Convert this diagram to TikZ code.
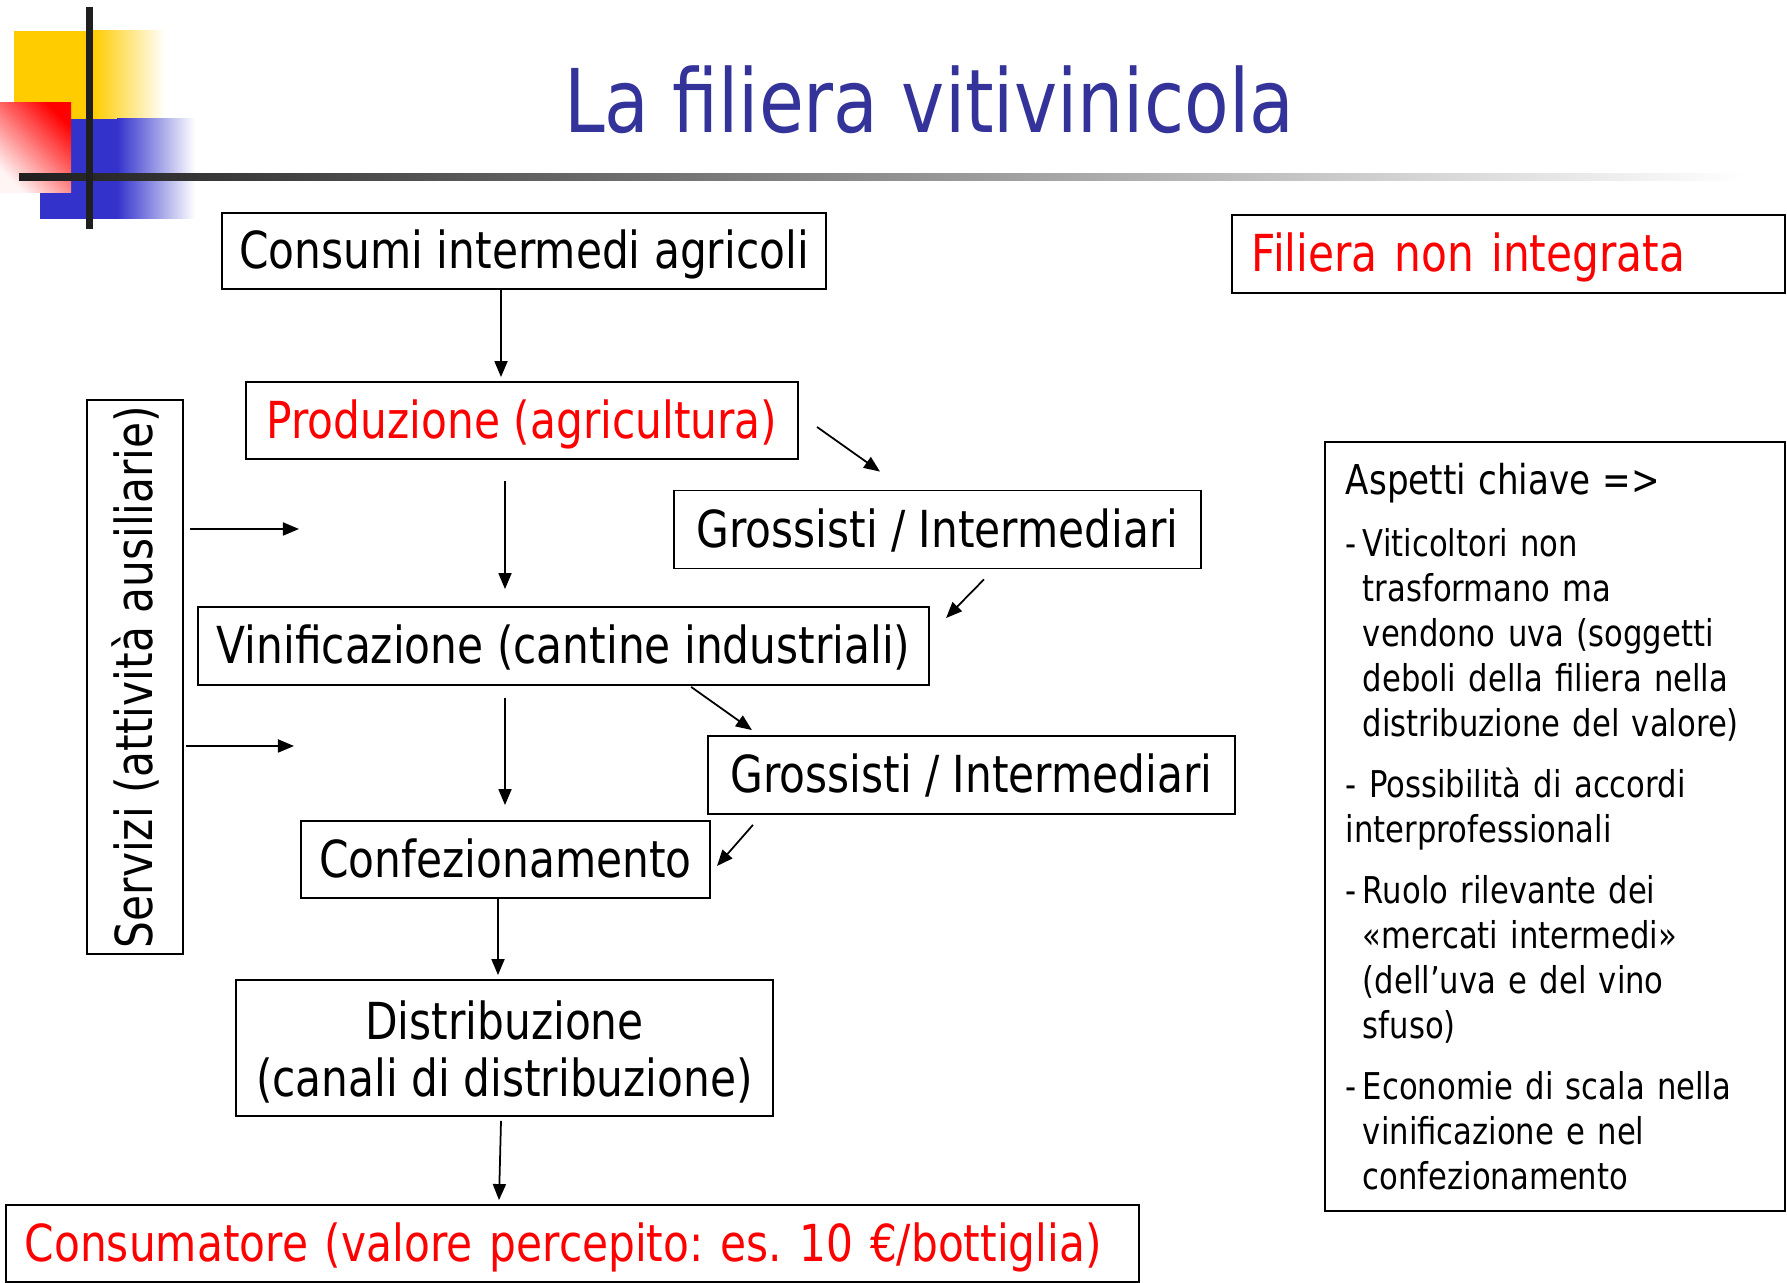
\documentclass[tikz,border=0pt]{standalone}
\usepackage{fontspec}
\setmainfont[FakeStretch=0.83]{DejaVu Sans}
\usetikzlibrary{calc,arrows.meta}
\tikzset {>={Triangle[length=1.6mm,width=1.3mm]}}
\definecolor{titleblue}{HTML}{333399}
\definecolor{logoyellow}{HTML}{FFCC00}
\definecolor{logoblue}{HTML}{3333CC}
\newcommand{\kdash}{\makebox[0.17cm][l]{-}}
\newcommand{\kind}{\hspace*{0.17cm}}
\frenchspacing

\begin{document}
\begin{tikzpicture}[x=0.01cm,y=-0.01cm,
  stage/.style={draw,line width=0.5pt,inner sep=0pt,
    font=\fontsize{14.5}{16.2}\selectfont},
  oneline/.style={text height=13pt,text depth=3pt},
  hot/.style={text=red}]
\fill[white] (0,0) rectangle (1787,1283);
\useasboundingbox (0,0) rectangle (1787,1283);
% logo
\fill[logoyellow] (14,31) rectangle (93,119);
\shade[left color=logoyellow,right color=white] (93,31) rectangle (165,119);
\fill[logoblue] (40,119) rectangle (117,219);
\shade[left color=logoblue,right color=white] (117,119) rectangle (195,219);
\shade[top color=red,bottom color=red!4,shading angle=-45] (0,103) rectangle (71,193);
\shade[left color=black!88,right color=white] (19,174) rectangle (1745,181);
\fill[black!88] (86,7) rectangle (93,229);
\node[text=titleblue,font=\fontsize{25}{28}\selectfont] (title) at (929,100)
  {La filiera vitivinicola};
% chain
\node[stage,oneline,minimum width=6.04cm,minimum height=0.76cm] (cons) at (524,251)
  {Consumi intermedi agricoli};
\node[stage,oneline,hot,minimum width=5.52cm,minimum height=0.77cm] (prod) at (522,420.5)
  {Produzione (agricultura)};
\foreach \n/\x/\y in {1/937.5/529.5,2/971.5/775}
  \node[stage,oneline,minimum width=5.27cm,minimum height=0.78cm] (gros\n) at (\x,\y)
    {Grossisti / Intermediari};
\node[stage,oneline,minimum width=7.31cm,minimum height=0.78cm] (vin) at (563.5,646)
  {Vinificazione (cantine industriali)};
\node[stage,oneline,minimum width=4.09cm,minimum height=0.77cm] (conf) at (505.5,859.5)
  {Confezionamento};
\node[stage,align=center,minimum width=5.37cm,minimum height=1.36cm] (dist) at (504.5,1048)
  {\rule{0pt}{0.46cm}Distribuzione\\(canali di distribuzione)};
\node[stage,oneline,hot,minimum width=11.33cm,minimum height=0.77cm,text width=10.95cm,align=left]
  (consum) at (572.5,1243.5) {Consumatore (valore percepito: es. 10 €/bottiglia)};
\node[stage,oneline,rotate=90,minimum width=5.54cm,minimum height=0.96cm] (serv) at (135,677)
  {Servizi (attività ausiliarie)};
\node[stage,oneline,hot,anchor=north west,minimum width=5.53cm,minimum height=0.78cm,
  text width=5.13cm,align=left] (nonint) at (1231,214) {Filiera non integrata};
\node[stage,anchor=north west,minimum width=4.6cm,minimum height=7.69cm,
  text width=4.18cm,align=left,font=\fontsize{10.5}{12.8}\selectfont] (key) at (1324,441)
  {{\fontsize{11.7}{12.8}\selectfont Aspetti chiave =>}\\[0.17cm]
   \kdash Viticoltori non\\
   \kind trasformano ma\\
   \kind vendono uva (soggetti\\
   \kind deboli della filiera nella\\
   \kind distribuzione del valore)\\[0.16cm]
   - Possibilità di accordi\\
   interprofessionali\\[0.16cm]
   \kdash Ruolo rilevante dei\\
   \kind «mercati intermedi»\\
   \kind (dell’uva e del vino\\
   \kind sfuso)\\[0.16cm]
   \kdash Economie di scala nella\\
   \kind vinificazione e nel\\
   \kind confezionamento};
% arrows
\coordinate (in1) at (299,529);
\coordinate (in2) at (294,746);
\draw[->,line width=0.5pt] ($(cons.south)+(-23,0)$) -- ($(prod.north)+(-21,-4)$);
\draw[->,line width=0.5pt] ($(prod.south)+(-17,21)$) -- ($(vin.north)+(-58.5,-17)$);
\draw[->,line width=0.5pt] ($(prod.east)+(18,6.5)$) -- ($(gros1.north)+(-57.5,-18)$);
\draw[->,line width=0.5pt] ($(gros1.south)+(46.5,10)$) -- ($(vin.east)+(16,-28)$);
\draw[->,line width=0.5pt] ($(vin.south)+(-58.5,12)$) -- ($(conf.north)+(-0.5,-15)$);
\draw[->,line width=0.5pt] ($(vin.south east)+(-239,1)$) -- ($(gros2.north west)+(45,-5)$);
\draw[->,line width=0.5pt] ($(gros2.south west)+(46,10)$) -- ($(conf.east)+(6,6.5)$);
\draw[->,line width=0.5pt] ($(conf.south)+(-7.5,0)$) -- ($(dist.north)+(-6.5,-4)$);
\draw[->,line width=0.5pt] ($(dist.south)+(-3.5,4)$) -- ($(consum.north)+(-73.5,-4)$);
\draw[->,line width=0.5pt] ($(serv.south)+(6,-148)$) -- (in1);
\draw[->,line width=0.5pt] ($(serv.south)+(2,69)$) -- (in2);
\end{tikzpicture}
\end{document}
